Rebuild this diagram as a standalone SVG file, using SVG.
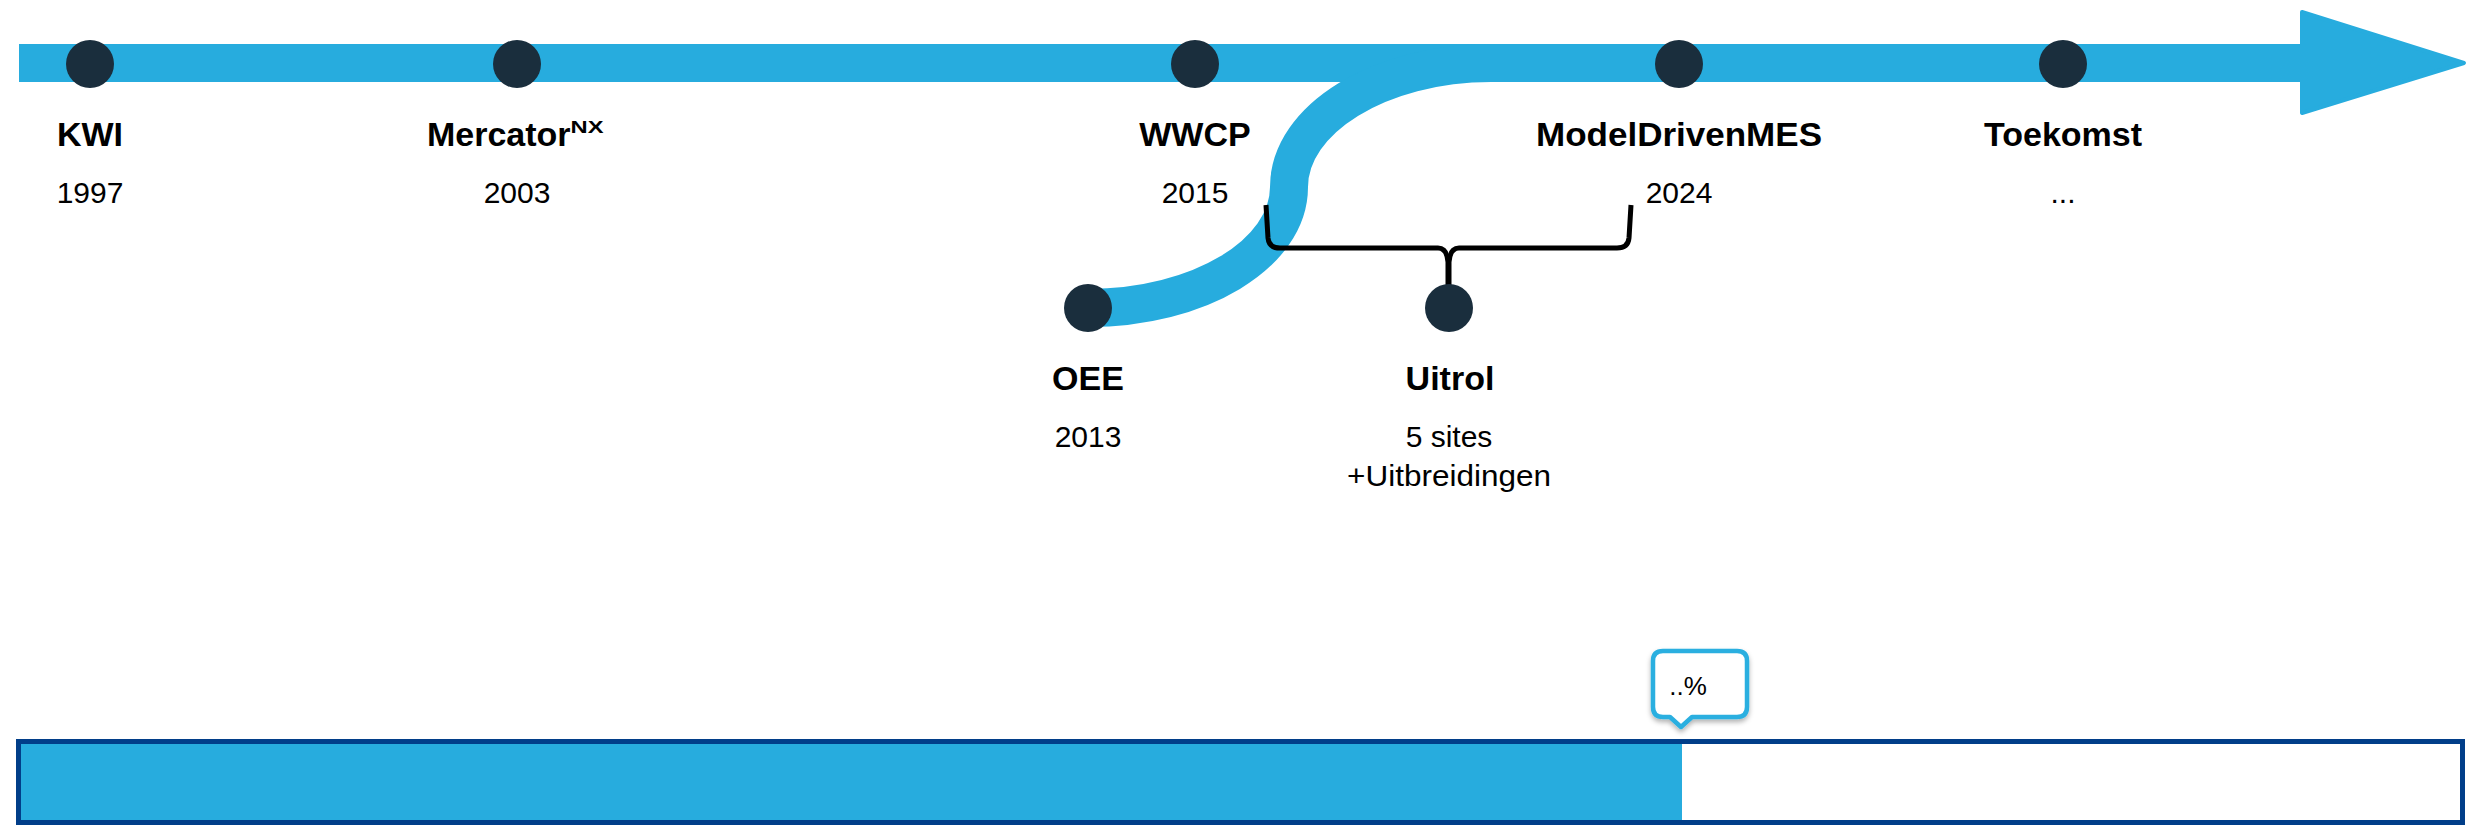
<svg xmlns="http://www.w3.org/2000/svg" width="2468" height="825" viewBox="0 0 2468 825">
  <style>
    text { font-family: "Liberation Sans", Arial, sans-serif; fill: #000; }
    .title { font-size: 34px; font-weight: bold; text-anchor: middle; }
    .sub { font-size: 30px; text-anchor: middle; }
    .dot { fill: #1A2E3D; }
    .band { fill: none; stroke: #27ACDE; stroke-width: 38; }
    .brace { fill: none; stroke: #000; stroke-width: 5; stroke-linejoin: round; }
  </style>
  <defs>
    <filter id="shadow" x="-20%" y="-20%" width="140%" height="160%">
      <feDropShadow dx="0" dy="3" stdDeviation="2.5" flood-color="#000" flood-opacity="0.3"/>
    </filter>
  </defs>
  <rect width="2468" height="825" fill="#fff"/>

  <g id="connectors">
    <rect x="19" y="44" width="2290" height="38" fill="#27ACDE"/>
    <polygon points="2302,12 2464,63 2302,113" fill="#27ACDE" stroke="#27ACDE" stroke-width="4" stroke-linejoin="round"/>
    <path class="band" d="M1088,308 C1199,308 1289,254 1289,187 C1289,119 1380,63 1491,63 L1530,63"/>
    <path class="brace" d="M1266,205 L1268,238 Q1269,248 1280,248 H1438 Q1447,248 1448,262 V285"/>
    <path class="brace" d="M1631,205 L1629,238 Q1628,248 1617,248 H1459 Q1450,248 1449,262 V285"/>
  </g>

  <g id="node-kwi">
    <circle class="dot" cx="90" cy="64" r="24"/>
    <text class="title" x="90" y="146">KWI</text>
    <text class="sub" x="90" y="203">1997</text>
  </g>

  <g id="node-mercator">
    <circle class="dot" cx="517" cy="64" r="24"/>
    <text x="427" y="146" font-size="34" font-weight="bold">Mercator<tspan font-size="17" dy="-13" textLength="33" lengthAdjust="spacingAndGlyphs">NX</tspan></text>
    <text class="sub" x="517" y="203">2003</text>
  </g>

  <g id="node-wwcp">
    <circle class="dot" cx="1195" cy="64" r="24"/>
    <text class="title" x="1195" y="146">WWCP</text>
    <text class="sub" x="1195" y="203">2015</text>
  </g>

  <g id="node-modeldrivenmes">
    <circle class="dot" cx="1679" cy="64" r="24"/>
    <text class="title" x="1679" y="146" textLength="286" lengthAdjust="spacingAndGlyphs">ModelDrivenMES</text>
    <text class="sub" x="1679" y="203">2024</text>
  </g>

  <g id="node-toekomst">
    <circle class="dot" cx="2063" cy="64" r="24"/>
    <text class="title" x="2063" y="146">Toekomst</text>
    <text class="sub" x="2063" y="203">...</text>
  </g>

  <g id="node-oee">
    <circle class="dot" cx="1088" cy="308" r="24"/>
    <text class="title" x="1088" y="390">OEE</text>
    <text class="sub" x="1088" y="447">2013</text>
  </g>

  <g id="node-uitrol">
    <circle class="dot" cx="1449" cy="308" r="24"/>
    <text class="title" x="1450" y="390">Uitrol</text>
    <text class="sub" x="1449" y="447">5 sites</text>
    <text class="sub" x="1449" y="486" textLength="204" lengthAdjust="spacingAndGlyphs">+Uitbreidingen</text>
  </g>

  <g id="progress">
    <rect x="21" y="744" width="1661" height="78" fill="#27ACDE"/>
    <rect x="18.5" y="741.5" width="2444" height="81" fill="none" stroke="#013E89" stroke-width="5"/>
  </g>

  <g id="callout">
    <path d="M1663,651 H1737 Q1747,651 1747,661 V707 Q1747,717 1737,717 H1692 L1681,727 L1670,717 H1663 Q1653,717 1653,707 V661 Q1653,651 1663,651 Z" fill="#fff" stroke="#2AAFE0" stroke-width="4.5" stroke-linejoin="round" filter="url(#shadow)"/>
    <text x="1688" y="695" font-size="26" text-anchor="middle">..%</text>
  </g>
</svg>
